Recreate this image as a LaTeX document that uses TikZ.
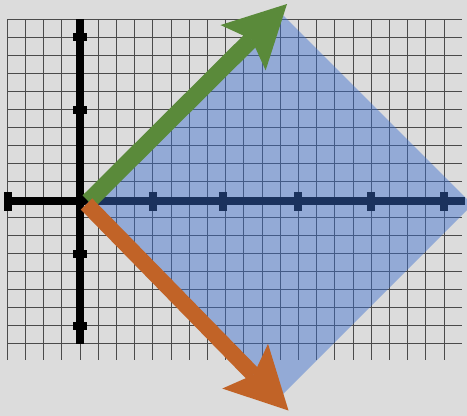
\documentclass[tikz,border=0pt]{standalone}
\usetikzlibrary{arrows.meta}
\definecolor{bgc}{RGB}{220,220,220}
\definecolor{gridc}{RGB}{75,75,75}
\definecolor{bluec}{RGB}{60,111,207}
\definecolor{greenc}{RGB}{90,138,58}
\definecolor{orangec}{RGB}{193,99,39}
\begin{document}
\begin{tikzpicture}[x=1pt,y=-1pt,
  gridline/.style={draw=gridc,line width=0.9pt},
  axisfill/.style={fill=black},
  bluearea/.style={fill=bluec,fill opacity=0.45},
  vecarrow/.style={line width=17pt,-{Stealth[length=62pt,width=64pt,inset=12pt,line width=0pt]}}]
\fill[bgc] (0,0) rectangle (467,416);
\useasboundingbox (0,0) rectangle (467,416);
% grid
\foreach \k in {0,...,24}{\draw[gridline] ({7.3+18.2*\k},19.3) -- ({7.3+18.2*\k},360);}
\foreach \k in {0,...,18}{\draw[gridline] (7.3,{19.3+18*\k}) -- (461.7,{19.3+18*\k});}
% axes
\fill[axisfill] (76,19.3) rectangle (84,344);
\foreach \yy in {36.7,110,254,325.7}{\fill[axisfill] (73.3,{\yy-4}) rectangle (87.3,{\yy+4});}
\fill[axisfill] (7,196.7) rectangle (465,205);
\foreach \xx in {7.8,153.3,223.3,298.3,371,444}{\fill[axisfill] ({\xx-4},191.7) rectangle ({\xx+4},210.7);}
% region
\coordinate (L) at (83,207);
\coordinate (T) at (279,11);
\coordinate (R) at (472.5,204.5);
\coordinate (B) at (276.5,400.5);
\fill[bluearea] (L) -- (T) -- (R) -- (B) -- cycle;
% vectors
\coordinate (gs) at (88.5,201.5);
\coordinate (gt) at (287,4);
\coordinate (os) at (86.5,204);
\coordinate (ot) at (288.5,410.5);
\draw[vecarrow,greenc] (gs) -- (gt);
\draw[vecarrow,orangec,line width=16pt] (os) -- (ot);
\end{tikzpicture}
\end{document}
